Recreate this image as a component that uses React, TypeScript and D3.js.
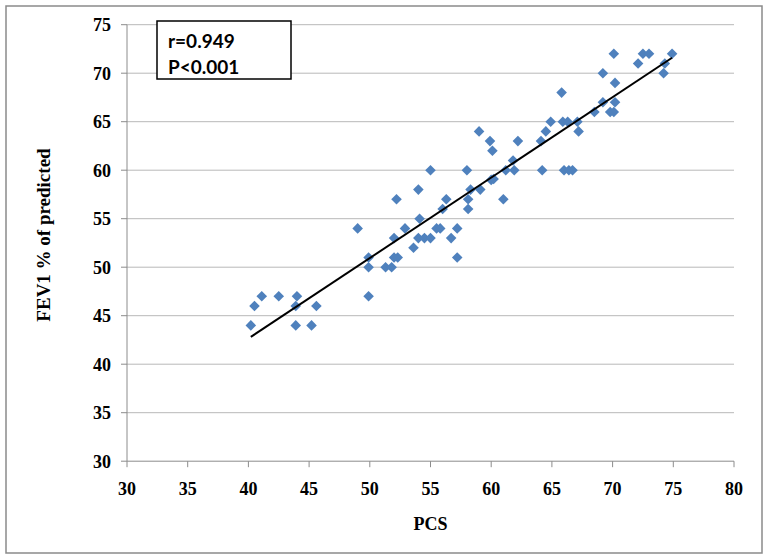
import React from "react";
import * as d3 from "d3";

// PCS (x) values
const pcs: number[] = [
  40.2, 40.5, 41.1, 42.5, 44.0, 43.9, 43.9, 45.2, 45.6,
  49.0, 49.9, 49.9, 49.9, 51.3, 51.8, 52.0, 52.3, 52.0, 52.2, 52.9,
  53.6, 54.0, 54.5, 55.0, 54.1, 54.0, 55.0, 55.5, 55.8, 56.0,
  56.3, 56.7, 57.2, 57.2, 58.0, 58.1, 58.1, 58.3, 59.0, 59.1,
  59.9, 60.1, 60.0, 60.2, 61.0, 61.2, 61.8, 61.9, 62.2, 64.1,
  64.2, 64.5, 64.9, 65.8, 65.9, 66.3, 66.0, 66.4, 66.7, 67.1,
  67.2, 68.5, 69.2, 69.2, 69.8, 70.1, 70.2, 70.2, 70.1, 72.1,
  72.5, 73.0, 74.2, 74.3, 74.9,
];
// FEV1 % of predicted (y) values
const fev1: number[] = [
  44, 46, 47, 47, 47, 46, 44, 44, 46,
  54, 51, 50, 47, 50, 50, 51, 51, 53, 57, 54,
  52, 53, 53, 53, 55, 58, 60, 54, 54, 56,
  57, 53, 54, 51, 60, 56, 57, 58, 64, 58,
  63, 62, 59, 59.1, 57, 60, 61, 60, 63, 63,
  60, 64, 65, 68, 65, 65, 60, 60, 60, 65,
  64, 66, 67, 70, 66, 66, 67, 69, 72, 71,
  72, 72, 70, 71, 72,
];

const xTicks: number[] = [30, 35, 40, 45, 50, 55, 60, 65, 70, 75, 80];
const yTicks: number[] = [30, 35, 40, 45, 50, 55, 60, 65, 70, 75];
const statLines: string[] = ["r=0.949", "P<0.001"];
const xTitle = "PCS";
const yTitle = "FEV1 % of predicted";

const W = 768;
const H = 560;
const plot = { left: 127, right: 734, top: 24.7, bottom: 461.2 };

export default function App() {
  const x = d3.scaleLinear().domain([30, 80]).range([plot.left, plot.right]);
  const y = d3.scaleLinear().domain([30, 75]).range([plot.bottom, plot.top]);

  const pts = pcs.map((v, i) => ({ x: v, y: fev1[i] }));
  const mx = d3.mean(pts, (d) => d.x) as number;
  const my = d3.mean(pts, (d) => d.y) as number;
  const sxy = d3.sum(pts, (d) => (d.x - mx) * (d.y - my));
  const sxx = d3.sum(pts, (d) => (d.x - mx) * (d.x - mx));
  const slope = sxy / sxx;
  const intercept = my - slope * mx;
  const [x0, x1] = d3.extent(pcs) as [number, number];
  const line = d3
    .line<number>()
    .x((d) => x(d))
    .y((d) => y(intercept + slope * d));

  const sym = d3.symbol().type(d3.symbolSquare).size(56)();

  const axisColor = "#8c8c8c";
  const gridColor = "#b8b8b8";
  const tickFont = "'Liberation Serif', 'Times New Roman', serif";

  return (
    <div style={{ position: "absolute", left: 0, top: 0 }}>
      <svg width={W} height={H} style={{ display: "block", background: "#fff" }}>
        <rect x={6} y={6} width={756} height={547} fill="#fff" stroke="#8a8a8a" strokeWidth={1.5} />
        {/* gridlines */}
        {yTicks
          .filter((t) => t !== 30)
          .map((t) => (
            <line key={"g" + t} x1={plot.left} x2={plot.right} y1={y(t)} y2={y(t)} stroke={gridColor} strokeWidth={1} />
          ))}
        {/* axes */}
        <line x1={plot.left} x2={plot.left} y1={plot.top} y2={plot.bottom} stroke={axisColor} strokeWidth={1} />
        <line x1={plot.left} x2={plot.right} y1={plot.bottom} y2={plot.bottom} stroke={axisColor} strokeWidth={1} />
        {yTicks.map((t) => (
          <g key={"y" + t}>
            <line x1={plot.left - 6} x2={plot.left} y1={y(t)} y2={y(t)} stroke={axisColor} />
            <text
              x={plot.left - 16}
              y={y(t)}
              dy="0.35em"
              textAnchor="end"
              fontFamily={tickFont}
              fontWeight="bold"
              fontSize={18}
              fill="#000"
            >
              {t}
            </text>
          </g>
        ))}
        {xTicks.map((t) => (
          <g key={"x" + t}>
            <line x1={x(t)} x2={x(t)} y1={plot.bottom} y2={plot.bottom + 6} stroke={axisColor} />
            <text
              x={x(t)}
              y={495}
              textAnchor="middle"
              fontFamily={tickFont}
              fontWeight="bold"
              fontSize={18}
              fill="#000"
            >
              {t}
            </text>
          </g>
        ))}
        <text
          x={(plot.left + plot.right) / 2}
          y={530}
          textAnchor="middle"
          fontFamily={tickFont}
          fontWeight="bold"
          fontSize={18}
        >
          {xTitle}
        </text>
        <text
          transform={`translate(50, 235) rotate(-90)`}
          textAnchor="middle"
          fontFamily={tickFont}
          fontWeight="bold"
          fontSize={19}
        >
          {yTitle}
        </text>
        {/* points */}
        {pts.map((d, i) => (
          <path
            key={"p" + i}
            d={sym as string}
            transform={`translate(${x(d.x)},${y(d.y)}) rotate(45)`}
            fill="#4f81bd"
          />
        ))}
        {/* trend line */}
        <path d={line([x0, x1]) as string} fill="none" stroke="#000" strokeWidth={2} />
        {/* stats box */}
        <rect x={157} y={21} width={134} height={58} fill="#fff" stroke="#000" strokeWidth={1.5} />
        {statLines.map((s, i) => (
          <text
            key={s}
            x={168}
            y={48 + i * 26}
            fontFamily="Lato, 'Open Sans', sans-serif"
            fontWeight="bold"
            fontSize={19}
            fill="#000"
          >
            {s}
          </text>
        ))}
      </svg>
    </div>
  );
}
